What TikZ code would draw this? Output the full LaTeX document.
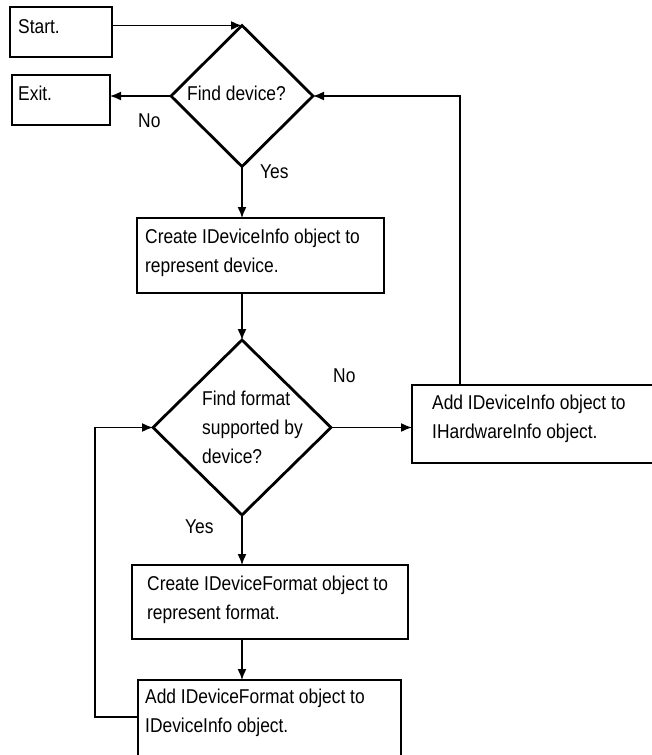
\documentclass[tikz,border=0pt]{standalone}
\usepackage{fontspec}
\setmainfont[FakeStretch=0.87]{Liberation Sans}
\usetikzlibrary{shapes.geometric,arrows.meta}
\begin{document}
\begin{tikzpicture}[x=1pt,y=-1pt,
  box/.style={draw,line width=1.6pt,rectangle,inner sep=0pt,outer sep=0pt},
  dia/.style={draw,line width=2.8pt,diamond,inner sep=0pt,outer sep=0pt,aspect=1},
  txt/.style={anchor=base west,inner sep=0pt,font=\fontsize{20}{29}\selectfont},
  arr/.style={line width=1.5pt,-{Latex[length=11pt,width=9pt]}},
  ln/.style={line width=1.5pt}]
\clip (0,0) rectangle (652,755);
\fill[white] (0,0) rectangle (652,755);
% boxes
\node[box,minimum width=102pt,minimum height=50pt] (start) at (61,32) {};
\node[box,minimum width=98pt,minimum height=50pt] (exit) at (61,100) {};
\node[box,minimum width=247pt,minimum height=75pt] (b2) at (260.5,255.5) {};
\node[box,minimum width=248pt,minimum height=78pt] (b3) at (536,424) {};
\node[box,minimum width=276pt,minimum height=74pt] (b4) at (270,602) {};
\node[box,minimum width=263pt,minimum height=80pt] (b5) at (269.5,720) {};
% diamonds
\node[dia,minimum width=142pt,minimum height=141pt] (d1) at (242,96) {};
\node[dia,minimum width=178pt,minimum height=175pt] (d2) at (242,427.5) {};
% texts
\node[txt] (tstart) at (18,33) {Start.};
\node[txt] (texit) at (18,100) {Exit.};
\node[txt] (td1) at (187,100) {Find device?};
\node[txt] (tb2a) at (145,243) {Create IDeviceInfo object to};
\node[txt] (tb2b) at (145,272) {represent device.};
\node[txt] (td2a) at (202,405) {Find format};
\node[txt] (td2b) at (202,434) {supported by};
\node[txt] (td2c) at (202,463) {device?};
\node[txt] (tb3a) at (432,409) {Add IDeviceInfo object to};
\node[txt] (tb3b) at (432,438) {IHardwareInfo object.};
\node[txt] (tb4a) at (147,590) {Create IDeviceFormat object to};
\node[txt] (tb4b) at (147,619) {represent format.};
\node[txt] (tb5a) at (145,703) {Add IDeviceFormat object to};
\node[txt] (tb5b) at (145,732) {IDeviceInfo object.};
\node[txt] (no1) at (138,127) {No};
\node[txt] (yes1) at (260,178) {Yes};
\node[txt] (no2) at (333,382) {No};
\node[txt] (yes2) at (185,533) {Yes};
% connectors
\draw[arr] (start.east |- d1.north) -- (d1.north);
\draw[arr] (d1.west) -- (d1.west -| exit.east);
\draw[arr] (d1.south) -- (d1.south |- b2.north);
\draw[arr] (d1.south |- b2.south) -- (d2.north);
\draw[arr] (d2.east) -- (d2.east -| b3.west);
\coordinate (up) at ([xshift=48pt]b3.north west);
\draw[arr] (up) |- (d1.east);
\draw[arr] (d2.south) -- (d2.south |- b4.north);
\draw[arr] (d2.south |- b4.south) -- (d2.south |- b5.north);
\coordinate (lp) at ([yshift=3pt]b5.west);
\coordinate (lc) at (95,717);
\draw[arr] (lp) -- (lc) |- (d2.west);
\end{tikzpicture}
\end{document}
